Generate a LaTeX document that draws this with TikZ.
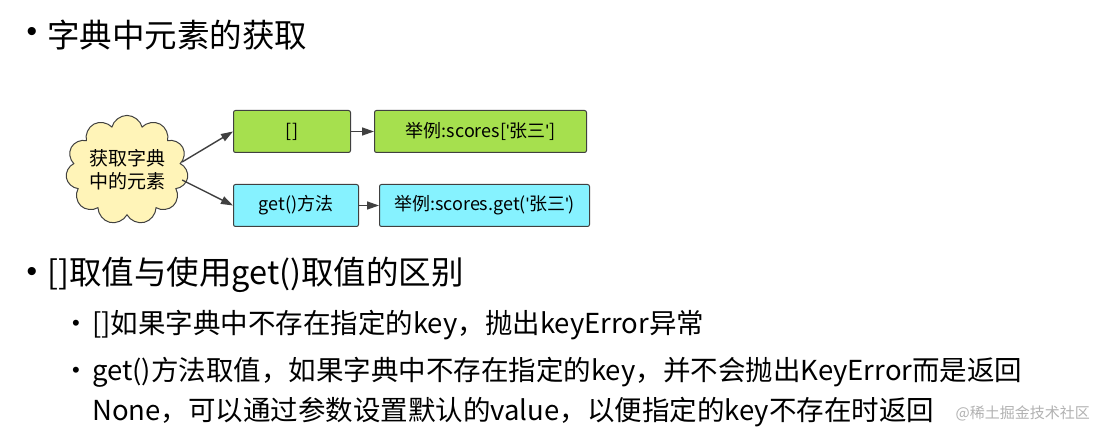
\documentclass[tikz,border=0pt]{standalone}
\usepackage{fontspec}
\setmainfont{Noto Sans CJK SC}
\newfontfamily\lat{Liberation Sans}
\newcommand{\sq}{{\lat\symbol{39}}}
\usetikzlibrary{shapes.symbols,arrows.meta}
\definecolor{lime}{HTML}{A6E04E}
\definecolor{aqua}{HTML}{86F2FF}
\definecolor{cloudy}{HTML}{FFF4B8}
\begin{document}
\begin{tikzpicture}[x=1pt,y=-1pt,
  box/.style={draw=black!75,line width=1pt,rounded corners=2pt,anchor=north west,inner sep=0pt},
  btxt/.style={font=\fontsize{18}{20}\selectfont},
  arr/.style={-{Triangle[length=12pt,width=8pt]},line width=1.4pt,black!75},
  bigtxt/.style={anchor=west,inner sep=0pt,font=\fontsize{32.5}{35}\selectfont},
  smtxt/.style={anchor=west,inner sep=0pt,font=\fontsize{27.5}{30}\selectfont},
  bul/.style={inner sep=0pt,font=\lat}]
\useasboundingbox[fill=white] (0,0) rectangle (1093,435);
\node[bul,font=\lat\fontsize{30}{30}\selectfont] (d1) at (32,35) {•};
\node[bigtxt] (b1) at (47,35) {字典中元素的获取};
\node[cloud,cloud puffs=11,aspect=1.2,draw=black!75,fill=cloudy,line width=1pt,minimum width=98pt,minimum height=88pt,inner sep=0pt,align=center,font=\fontsize{19}{23}\selectfont] (c) at (127,170) {获取字典\\中的元素};
\node[box,fill=lime,minimum width=117pt,minimum height=42pt] (g1) at (233,110) {};
\node[btxt] at (g1.center) {[]};
\node[box,fill=lime,minimum width=212pt,minimum height=42pt] (g2) at (374,110) {};
\node[btxt] at (g2.center) {举例:scores[\sq 张三\sq]};
\node[box,fill=aqua,minimum width=125pt,minimum height=42pt] (a1) at (233,184) {};
\node[btxt] at (a1.center) {get()方法};
\node[box,fill=aqua,minimum width=210pt,minimum height=42pt] (a2) at (379,184) {};
\node[btxt] at (a2.center) {举例:scores.get(\sq 张三\sq)};
\draw[arr] (c.east) ++(-5,-8) coordinate (s1) -- (g1.west);
\draw[arr] (c.east) ++(-5,10) coordinate (s2) -- (a1.west);
\draw[arr] (g1.east) -- (g2.west);
\draw[arr] (a1.east) -- (a2.west);
\node[bul,font=\lat\fontsize{30}{30}\selectfont] (d2) at (32,275) {•};
\node[bigtxt] (b2) at (47,275) {[]取值与使用get()取值的区别};
\node[bul,font=\lat\fontsize{22}{22}\selectfont] (d3) at (76,325) {•};
\node[smtxt] (s1t) at (92,325) {[]如果字典中不存在指定的key，抛出keyError异常};
\node[bul,font=\lat\fontsize{22}{22}\selectfont] (d4) at (76,372) {•};
\node[smtxt] (s2t) at (92,372) {get()方法取值，如果字典中不存在指定的key，并不会抛出KeyError而是返回};
\node[smtxt] (s3t) at (92,412) {None，可以通过参数设置默认的value，以便指定的key不存在时返回};
\node[anchor=east,inner sep=0pt,text=black!30,font=\fontsize{15}{17}\selectfont] (wm) at (1090,413) {@稀土掘金技术社区};
\end{tikzpicture}
\end{document}
